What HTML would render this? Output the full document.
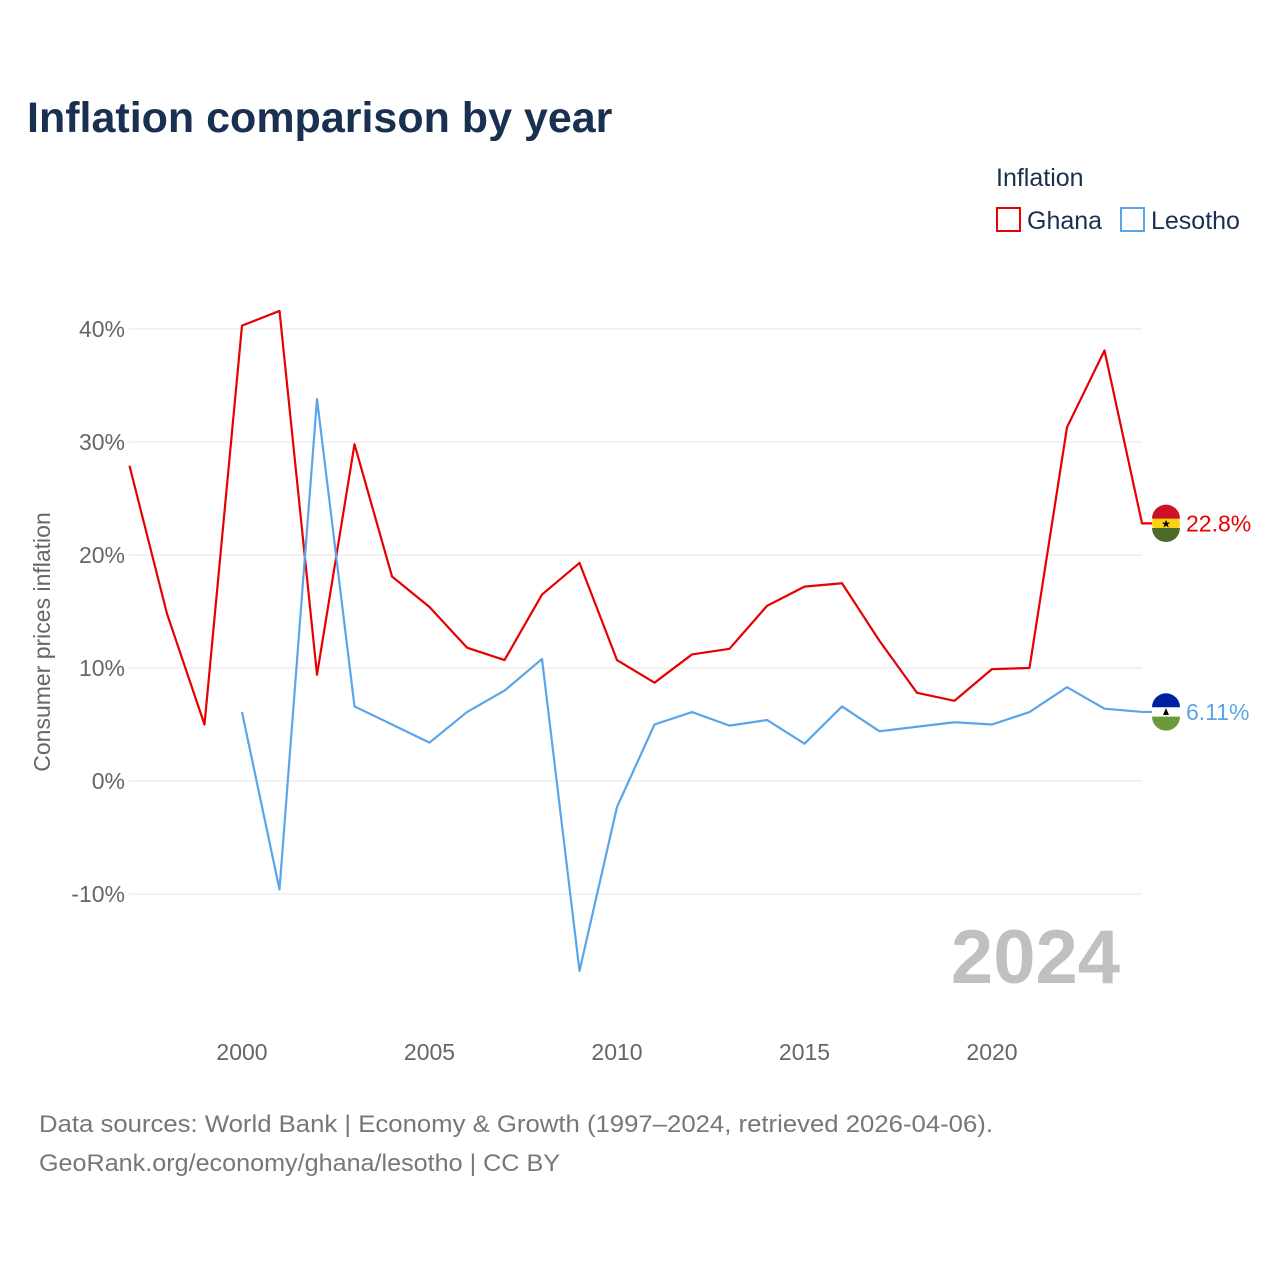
<!DOCTYPE html>
<html><head><meta charset="utf-8"><style>
body{margin:0;background:#fff;font-family:"Liberation Sans",sans-serif;}
</style></head><body>
<svg width="1280" height="1280" xmlns="http://www.w3.org/2000/svg" font-family="Liberation Sans, sans-serif">
<text x="27" y="132" font-size="43" font-weight="bold" fill="#1a3050">Inflation comparison by year</text>
<text x="996" y="186" font-size="25" fill="#1a3050">Inflation</text>
<g><rect x="997" y="208" width="23" height="23" fill="none" stroke="#e60000" stroke-width="2"/><text x="1027" y="229" font-size="25" fill="#1a3050">Ghana</text></g>
<g><rect x="1121" y="208" width="23" height="23" fill="none" stroke="#5aa5ea" stroke-width="2"/><text x="1151" y="229" font-size="25" fill="#1a3050">Lesotho</text></g>
<g id="grid"></g>
<text transform="translate(50,642) rotate(-90)" text-anchor="middle" font-size="23" fill="#666">Consumer prices inflation</text>
<text x="1120" y="983" text-anchor="end" font-size="76" font-weight="bold" fill="#c0c0c0">2024</text>
<g id="series"></g>
<text x="39" y="1132" font-size="24" fill="#777" textLength="954" lengthAdjust="spacingAndGlyphs">Data sources: World Bank | Economy &amp; Growth (1997–2024, retrieved 2026-04-06).</text>
<text x="39" y="1171" font-size="24" fill="#777" textLength="521" lengthAdjust="spacingAndGlyphs">GeoRank.org/economy/ghana/lesotho | CC BY</text>
</svg>
<script>
const years=[1997,1998,1999,2000,2001,2002,2003,2004,2005,2006,2007,2008,2009,2010,2011,2012,2013,2014,2015,2016,2017,2018,2019,2020,2021,2022,2023,2024];
const ghana=[27.9,14.8,5.0,40.3,41.6,9.4,29.8,18.1,15.4,11.8,10.7,16.5,19.3,10.7,8.7,11.2,11.7,15.5,17.2,17.5,12.4,7.8,7.1,9.9,10.0,31.3,38.1,22.8];
const lesotho=[null,null,null,6.1,-9.6,33.8,6.6,5.0,3.4,6.1,8.0,10.8,-16.8,-2.3,5.0,6.1,4.9,5.4,3.3,6.6,4.4,4.8,5.2,5.0,6.1,8.3,6.4,6.11];
const yTicks=[-10,0,10,20,30,40];
const xTicks=[2000,2005,2010,2015,2020];
const NS="http://www.w3.org/2000/svg";
const X=y=>242+(y-2000)*37.5, Y=v=>781-v*11.3;
function mk(t,a,p){const e=document.createElementNS(NS,t);for(const k in a)e.setAttribute(k,a[k]);p.appendChild(e);return e;}
const grid=document.getElementById('grid');
yTicks.forEach(v=>{
 const l=mk('line',{x1:129,x2:1142,y1:Y(v),y2:Y(v),stroke:'#e6e6e6','stroke-width':1},grid);
 
 
 const t=mk('text',{x:125,y:Y(v)+8,'text-anchor':'end','font-size':23,fill:'#666'},grid);
 t.textContent=v+'%';
 
 
});
xTicks.forEach(y=>{
 const t=mk('text',{x:X(y),y:1060,'text-anchor':'middle','font-size':23,fill:'#666'},grid);
 t.textContent=y;
 
 
});
const S=document.getElementById('series');
function line(vals,color,name,label,flag){
 let d='',pen=false;
 vals.forEach((v,i)=>{if(v==null){pen=false;return;}d+=(pen?'L':'M')+X(years[i])+','+Y(v);pen=true;});
 const last=vals[vals.length-1];
 d+='L'+(X(2024)+10)+','+Y(last);
 const p=mk('path',{d:d,fill:'none',stroke:color,'stroke-width':2.2,'stroke-linejoin':'round'},S);
 
 
 const cy=Y(last),cx=1166;
 const g=mk('g',{},S);
 
 
 flag(g,cx,cy);
 const t=mk('text',{x:1186,y:cy+8,'font-size':23,fill:color},S);
 t.textContent=label;
 
 
}
line(ghana,'#e60000','ghana','22.8%',(g,cx,cy)=>{
 mk('circle',{cx:cx,cy:cy,r:14,fill:'#fcd116'},g);
 mk('path',{d:`M${cx-14},${cy-4.7}A14,14 0 0 1 ${cx+14},${cy-4.7}Z`,fill:'#ce1126'},g);
 mk('path',{d:`M${cx-14},${cy+4.7}A14,14 0 0 0 ${cx+14},${cy+4.7}Z`,fill:'#4a6b2a'},g);
 mk('text',{x:cx,y:cy+4,'text-anchor':'middle','font-size':11,fill:'#000'},g).textContent='★';
});
line(lesotho,'#5aa5ea','lesotho','6.11%',(g,cx,cy)=>{
 mk('circle',{cx:cx,cy:cy,r:14,fill:'#fff'},g);
 mk('path',{d:`M${cx-14},${cy-4.7}A14,14 0 0 1 ${cx+14},${cy-4.7}Z`,fill:'#00209f'},g);
 mk('path',{d:`M${cx-14},${cy+4.7}A14,14 0 0 0 ${cx+14},${cy+4.7}Z`,fill:'#6a9a3a'},g);
 mk('path',{d:`M${cx-3},${cy+3}L${cx},${cy-4}L${cx+3},${cy+3}Z`,fill:'#000'},g);
});
</script>
</body></html>
